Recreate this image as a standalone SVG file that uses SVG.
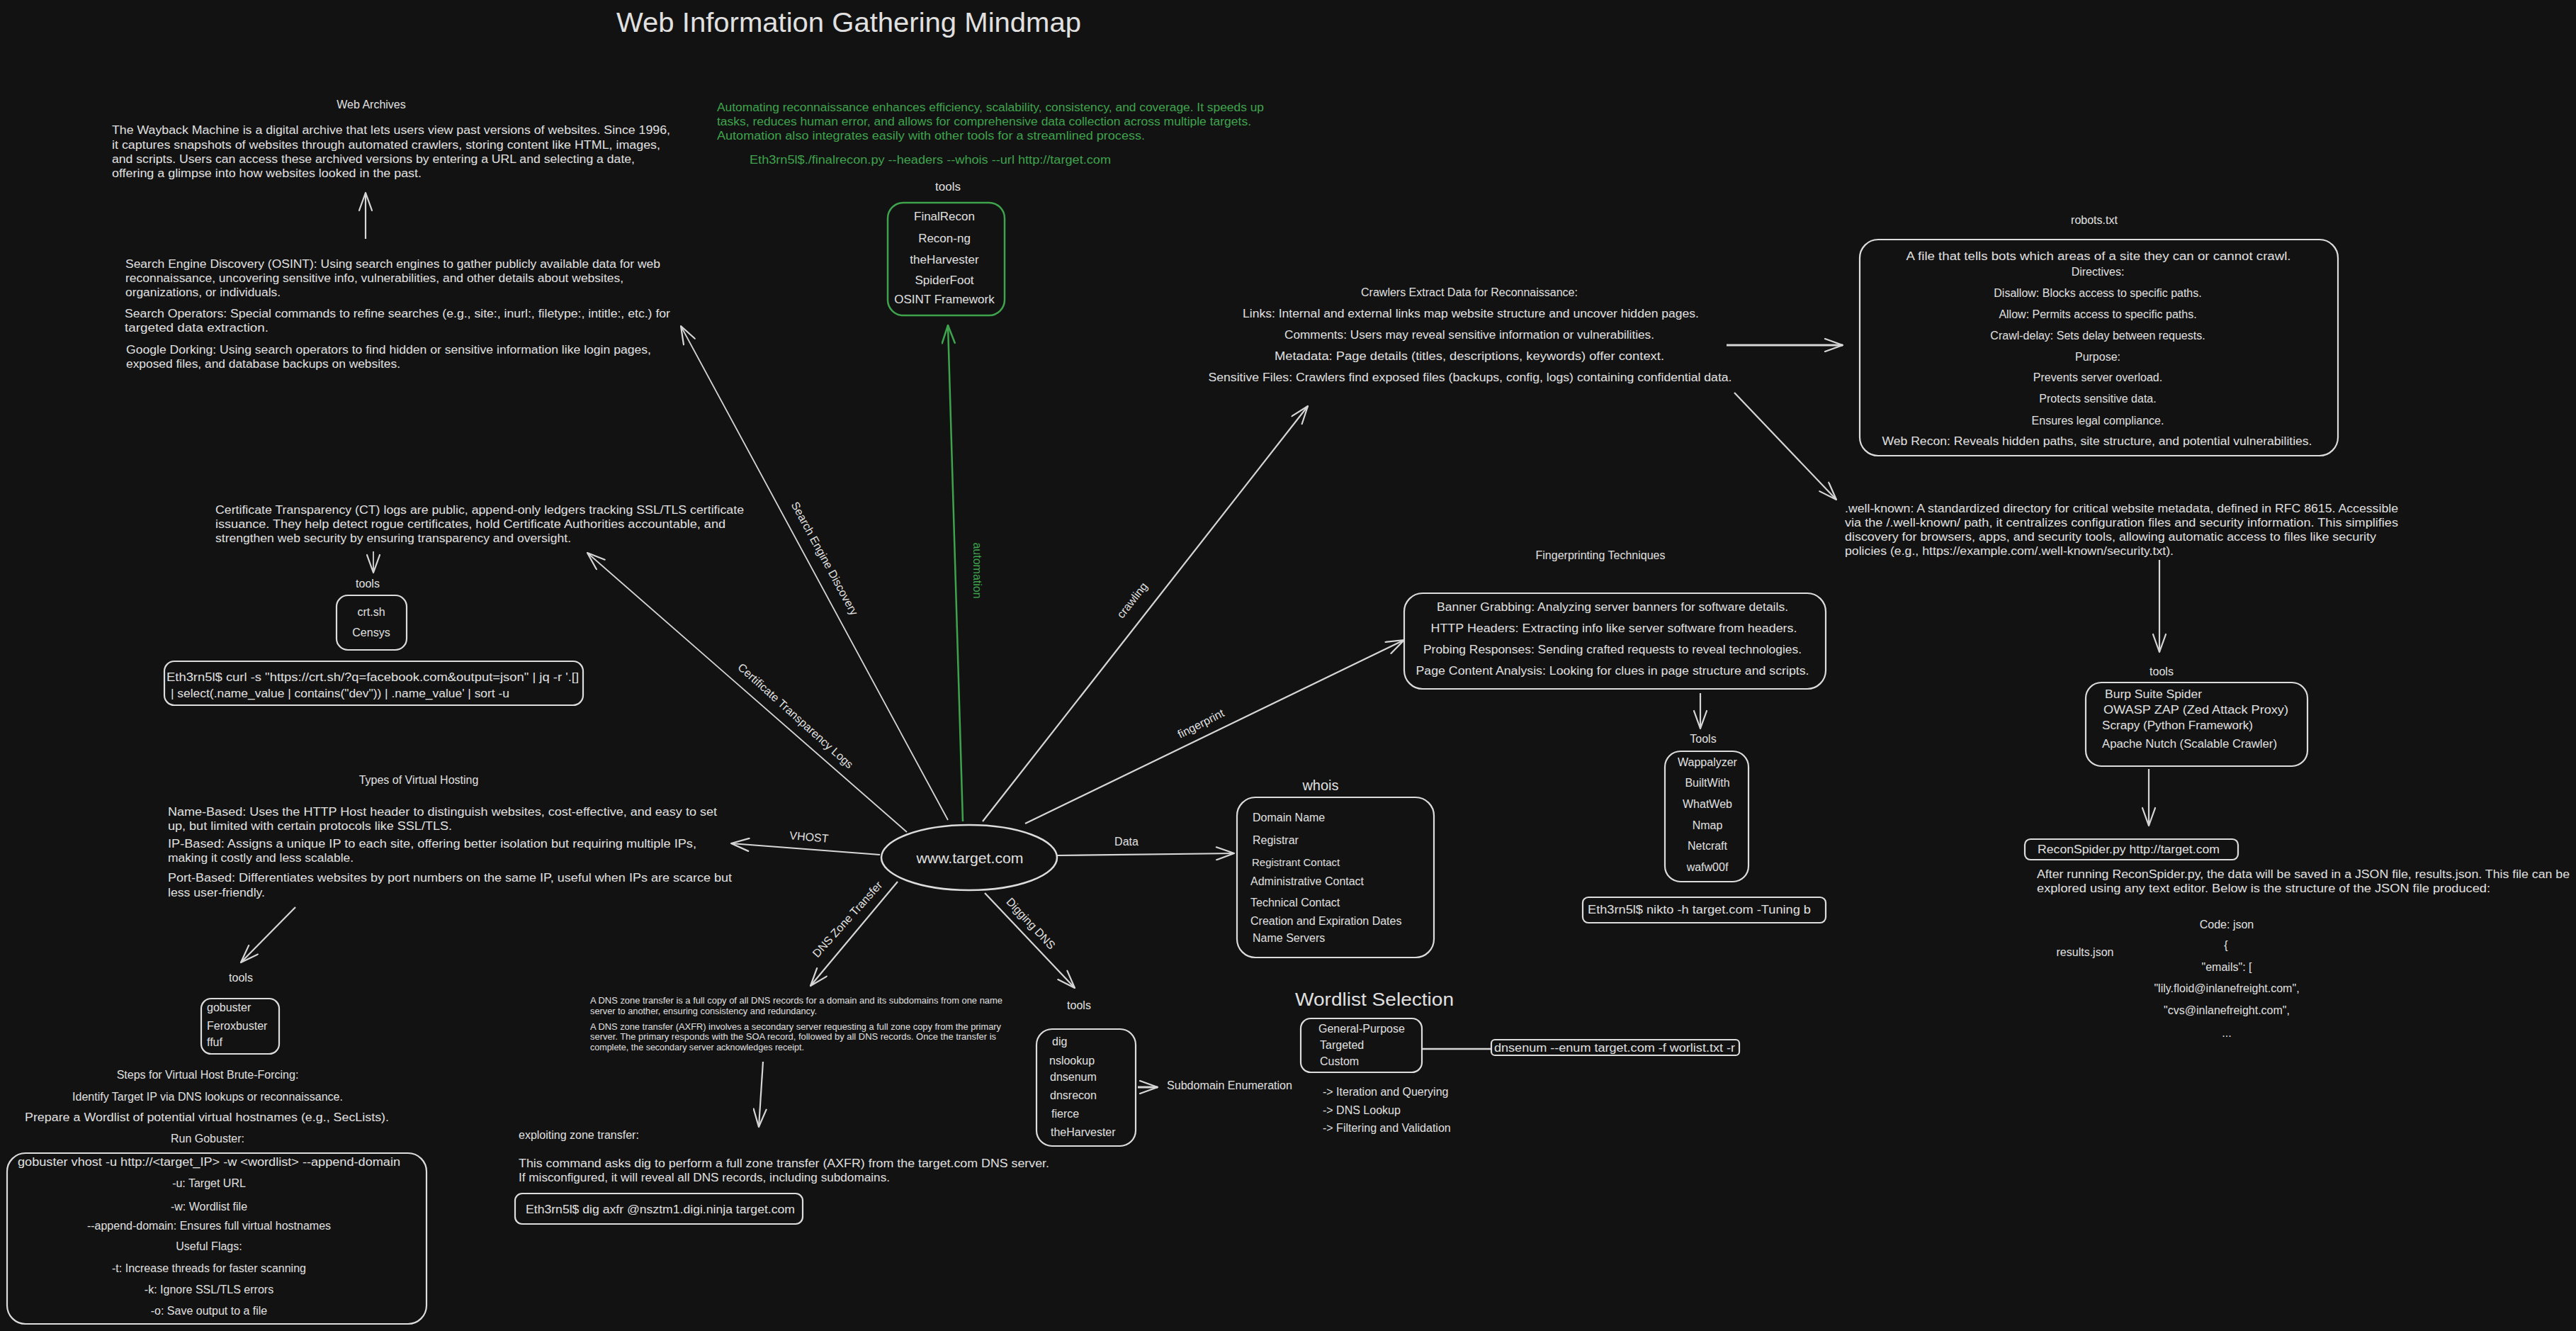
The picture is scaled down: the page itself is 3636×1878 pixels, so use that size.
<svg xmlns="http://www.w3.org/2000/svg" width="3636" height="1878" viewBox="0 0 3636 1878">
<style>
  text { font-family: "Liberation Sans", "DejaVu Sans", sans-serif; fill: #e0e0e0; font-size: 16px; dominant-baseline: central; }
  .c { text-anchor: middle; }
  .g { fill: #3fa34d; }
  .s { font-size: 12px; }
  .b { font-size: 17px; }
  .lbl { font-size: 16px; text-anchor: middle; }
  .box { fill: none; stroke: #dcdcdc; stroke-width: 2.2; }
  .gbox { fill: none; stroke: #3fa34d; stroke-width: 2.5; }
  .edge { fill: none; stroke: #d6d6d6; stroke-width: 2.2; marker-end: url(#arrow); }
  .gedge { fill: none; stroke: #3fa34d; stroke-width: 2.5; marker-end: url(#garrow); }
  .plain { fill: none; stroke: #d6d6d6; stroke-width: 2.5; }
</style>
<defs>
  <marker id="arrow" viewBox="0 0 30 20" refX="28" refY="10" markerWidth="30" markerHeight="20" markerUnits="userSpaceOnUse" orient="auto">
    <path d="M 3 1 L 28 10 L 3 19" fill="none" stroke="#d6d6d6" stroke-width="2.2" stroke-linecap="round" stroke-linejoin="round"/>
  </marker>
  <marker id="garrow" viewBox="0 0 30 20" refX="28" refY="10" markerWidth="30" markerHeight="20" markerUnits="userSpaceOnUse" orient="auto">
    <path d="M 3 1 L 28 10 L 3 19" fill="none" stroke="#3fa34d" stroke-width="2.5" stroke-linecap="round" stroke-linejoin="round"/>
  </marker>
</defs>
<rect x="0" y="0" width="3636" height="1878" fill="#121212"/>

<text class="c" x="1198" y="32" style="font-size:38px" textLength="656" lengthAdjust="spacingAndGlyphs">Web Information Gathering Mindmap</text>

<!-- connectors -->
<g id="connectors">
  <path class="edge" d="M 1338 1157 L 961 460" style="stroke-width:1.8"/>
  <path class="gedge" d="M 1359 1159 L 1338 459"/>
  <path class="edge" d="M 1387 1159 L 1846 573"/>
  <path class="edge" d="M 1447 1162 L 1982 903"/>
  <path class="edge" d="M 1280 1174 L 829 780" style="stroke-width:1.8"/>
  <path class="edge" d="M 1242 1206 L 1032 1190"/>
  <path class="edge" d="M 1492 1207 L 1742 1204"/>
  <path class="edge" d="M 1267 1244 L 1144 1391"/>
  <path class="edge" d="M 1390 1260 L 1517 1394"/>
  <path class="edge" d="M 516 337 L 516 272"/>
  <path class="edge" d="M 527 778 L 527 808" style="stroke-width:1.8"/>
  <path class="edge" d="M 2437 487 L 2601 487" style="stroke-width:3"/>
  <path class="edge" d="M 2448 554 L 2592 705"/>
  <path class="edge" d="M 3048 790 L 3048 920"/>
  <path class="edge" d="M 3033 1085 L 3033 1165"/>
  <path class="edge" d="M 2400 978 L 2400 1028"/>
  <path class="edge" d="M 417 1280 L 340 1358"/>
  <path class="edge" d="M 1077 1498 L 1071 1590"/>
  <path class="edge" d="M 1606 1534 L 1634 1534" style="stroke-width:3"/>
  <path class="plain" d="M 2007 1480 L 2105 1480"/>

  <text class="lbl" transform="translate(1164 788) rotate(61.5)">Search Engine Discovery</text>
  <text class="lbl g" transform="translate(1379 805) rotate(90)">automation</text>
  <text class="lbl" transform="translate(1598 847) rotate(-52)">crawling</text>
  <text class="lbl" transform="translate(1695 1021) rotate(-27)">fingerprint</text>
  <text class="lbl" transform="translate(1123 1010) rotate(42)">Certificate Transparency Logs</text>
  <text class="lbl" transform="translate(1142 1181) rotate(5)">VHOST</text>
  <text class="lbl" x="1590" y="1187">Data</text>
  <text class="lbl" transform="translate(1196 1297) rotate(-48)">DNS Zone Transfer</text>
  <text class="lbl" transform="translate(1455 1303) rotate(47)">Digging DNS</text>
</g>

<!-- central node -->
<g id="target">
  <ellipse cx="1368" cy="1210" rx="124" ry="46" class="box" style="stroke-width:2.5"/>
  <text class="c" x="1369" y="1210" style="font-size:21px" textLength="151" lengthAdjust="spacingAndGlyphs">www.target.com</text>
</g>

<!-- web archives -->
<g id="web-archives">
  <text class="c" x="524" y="147">Web Archives</text>
  <text x="158" y="183" textLength="788" lengthAdjust="spacingAndGlyphs">The Wayback Machine is a digital archive that lets users view past versions of websites. Since 1996,</text>
  <text x="158" y="204" textLength="774" lengthAdjust="spacingAndGlyphs">it captures snapshots of websites through automated crawlers, storing content like HTML, images,</text>
  <text x="158" y="224" textLength="738" lengthAdjust="spacingAndGlyphs">and scripts. Users can access these archived versions by entering a URL and selecting a date,</text>
  <text x="158" y="244" textLength="437" lengthAdjust="spacingAndGlyphs">offering a glimpse into how websites looked in the past.</text>
</g>

<!-- search engine discovery -->
<g id="search-engine">
  <text x="177" y="372" textLength="755" lengthAdjust="spacingAndGlyphs">Search Engine Discovery (OSINT): Using search engines to gather publicly available data for web</text>
  <text x="177" y="392" textLength="703" lengthAdjust="spacingAndGlyphs">reconnaissance, uncovering sensitive info, vulnerabilities, and other details about websites,</text>
  <text x="177" y="412" textLength="219" lengthAdjust="spacingAndGlyphs">organizations, or individuals.</text>
  <text x="176" y="442" textLength="770" lengthAdjust="spacingAndGlyphs">Search Operators: Special commands to refine searches (e.g., site:, inurl:, filetype:, intitle:, etc.) for</text>
  <text x="176" y="462" textLength="203" lengthAdjust="spacingAndGlyphs">targeted data extraction.</text>
  <text x="178" y="493" textLength="741" lengthAdjust="spacingAndGlyphs">Google Dorking: Using search operators to find hidden or sensitive information like login pages,</text>
  <text x="178" y="513" textLength="387" lengthAdjust="spacingAndGlyphs">exposed files, and database backups on websites.</text>
</g>

<!-- automation -->
<g id="automation">
  <text class="g" x="1012" y="151" textLength="772" lengthAdjust="spacingAndGlyphs">Automating reconnaissance enhances efficiency, scalability, consistency, and coverage. It speeds up</text>
  <text class="g" x="1012" y="171" textLength="754" lengthAdjust="spacingAndGlyphs">tasks, reduces human error, and allows for comprehensive data collection across multiple targets.</text>
  <text class="g" x="1012" y="191" textLength="604" lengthAdjust="spacingAndGlyphs">Automation also integrates easily with other tools for a streamlined process.</text>
  <text class="g" x="1058" y="225" textLength="510" lengthAdjust="spacingAndGlyphs">Eth3rn5l$./finalrecon.py --headers --whois --url http://target.com</text>
</g>
<g id="automation-tools">
  <text class="c b" x="1338" y="263">tools</text>
  <rect class="gbox" x="1253" y="286" width="165" height="159" rx="22"/>
  <text class="c b" x="1333" y="305">FinalRecon</text>
  <text class="c b" x="1333" y="336">Recon-ng</text>
  <text class="c b" x="1333" y="366">theHarvester</text>
  <text class="c b" x="1333" y="395">SpiderFoot</text>
  <text class="c b" x="1333" y="422">OSINT Framework</text>
</g>

<!-- crawling -->
<g id="crawlers">
  <text class="c" x="2074" y="412">Crawlers Extract Data for Reconnaissance:</text>
  <text class="c" x="2076" y="442" textLength="644" lengthAdjust="spacingAndGlyphs">Links: Internal and external links map website structure and uncover hidden pages.</text>
  <text class="c" x="2074" y="472" textLength="522" lengthAdjust="spacingAndGlyphs">Comments: Users may reveal sensitive information or vulnerabilities.</text>
  <text class="c" x="2074" y="502" textLength="550" lengthAdjust="spacingAndGlyphs">Metadata: Page details (titles, descriptions, keywords) offer context.</text>
  <text class="c" x="2075" y="532" textLength="739" lengthAdjust="spacingAndGlyphs">Sensitive Files: Crawlers find exposed files (backups, config, logs) containing confidential data.</text>
</g>

<g id="robots">
  <text class="c" x="2956" y="310">robots.txt</text>
  <rect class="box" x="2625" y="338" width="675" height="305" rx="26"/>
  <text class="c" x="2962" y="361" textLength="543" lengthAdjust="spacingAndGlyphs">A file that tells bots which areas of a site they can or cannot crawl.</text>
  <text class="c" x="2961" y="383">Directives:</text>
  <text class="c" x="2961" y="413">Disallow: Blocks access to specific paths.</text>
  <text class="c" x="2961" y="443">Allow: Permits access to specific paths.</text>
  <text class="c" x="2961" y="473">Crawl-delay: Sets delay between requests.</text>
  <text class="c" x="2961" y="503">Purpose:</text>
  <text class="c" x="2961" y="532">Prevents server overload.</text>
  <text class="c" x="2961" y="562">Protects sensitive data.</text>
  <text class="c" x="2961" y="593">Ensures legal compliance.</text>
  <text class="c" x="2960" y="622" textLength="607" lengthAdjust="spacingAndGlyphs">Web Recon: Reveals hidden paths, site structure, and potential vulnerabilities.</text>
</g>

<g id="well-known">
  <text x="2604" y="717" textLength="781" lengthAdjust="spacingAndGlyphs">.well-known: A standardized directory for critical website metadata, defined in RFC 8615. Accessible</text>
  <text x="2604" y="737" textLength="781" lengthAdjust="spacingAndGlyphs">via the /.well-known/ path, it centralizes configuration files and security information. This simplifies</text>
  <text x="2604" y="757" textLength="750" lengthAdjust="spacingAndGlyphs">discovery for browsers, apps, and security tools, allowing automatic access to files like security</text>
  <text x="2604" y="777" textLength="464" lengthAdjust="spacingAndGlyphs">policies (e.g., https://example.com/.well-known/security.txt).</text>
</g>

<g id="crawler-tools">
  <text class="c" x="3051" y="947">tools</text>
  <rect class="box" x="2944" y="963" width="313" height="118" rx="22"/>
  <text x="2971" y="979" textLength="137" lengthAdjust="spacingAndGlyphs">Burp Suite Spider</text>
  <text x="2969" y="1001" textLength="261" lengthAdjust="spacingAndGlyphs">OWASP ZAP (Zed Attack Proxy)</text>
  <text x="2967" y="1023" textLength="213" lengthAdjust="spacingAndGlyphs">Scrapy (Python Framework)</text>
  <text x="2967" y="1049" textLength="247" lengthAdjust="spacingAndGlyphs">Apache Nutch (Scalable Crawler)</text>
</g>

<g id="reconspider">
  <rect class="box" x="2858" y="1184" width="301" height="29" rx="8"/>
  <text x="2876" y="1198" textLength="257" lengthAdjust="spacingAndGlyphs">ReconSpider.py http://target.com</text>
  <text x="2875" y="1233" textLength="752" lengthAdjust="spacingAndGlyphs">After running ReconSpider.py, the data will be saved in a JSON file, results.json. This file can be</text>
  <text x="2875" y="1253" textLength="640" lengthAdjust="spacingAndGlyphs">explored using any text editor. Below is the structure of the JSON file produced:</text>
  <text class="c" x="3143" y="1304">Code: json</text>
  <text class="c" x="2943" y="1343">results.json</text>
  <text class="c" x="3142" y="1333">{</text>
  <text class="c" x="3143" y="1364">"emails": [</text>
  <text class="c" x="3143" y="1394">"lily.floid@inlanefreight.com",</text>
  <text class="c" x="3143" y="1425">"cvs@inlanefreight.com",</text>
  <text class="c" x="3143" y="1457">...</text>
</g>

<!-- fingerprinting -->
<g id="fingerprinting">
  <text class="c" x="2259" y="783">Fingerprinting Techniques</text>
  <rect class="box" x="1982" y="837" width="595" height="135" rx="26"/>
  <text class="c" x="2276" y="856" textLength="496" lengthAdjust="spacingAndGlyphs">Banner Grabbing: Analyzing server banners for software details.</text>
  <text class="c" x="2278" y="886" textLength="517" lengthAdjust="spacingAndGlyphs">HTTP Headers: Extracting info like server software from headers.</text>
  <text class="c" x="2276" y="916" textLength="534" lengthAdjust="spacingAndGlyphs">Probing Responses: Sending crafted requests to reveal technologies.</text>
  <text class="c" x="2276" y="946" textLength="555" lengthAdjust="spacingAndGlyphs">Page Content Analysis: Looking for clues in page structure and scripts.</text>
</g>
<g id="fingerprint-tools">
  <text class="c" x="2404" y="1042">Tools</text>
  <rect class="box" x="2350" y="1060" width="118" height="184" rx="22"/>
  <text class="c" x="2410" y="1075">Wappalyzer</text>
  <text class="c" x="2410" y="1104">BuiltWith</text>
  <text class="c" x="2410" y="1134">WhatWeb</text>
  <text class="c" x="2410" y="1164">Nmap</text>
  <text class="c" x="2410" y="1193">Netcraft</text>
  <text class="c" x="2410" y="1223">wafw00f</text>
  <rect class="box" x="2234" y="1266" width="343" height="36" rx="8"/>
  <text x="2241" y="1283" textLength="315" lengthAdjust="spacingAndGlyphs">Eth3rn5l$ nikto -h target.com -Tuning b</text>
</g>

<!-- certificate transparency -->
<g id="ct-logs">
  <text x="304" y="719" textLength="746" lengthAdjust="spacingAndGlyphs">Certificate Transparency (CT) logs are public, append-only ledgers tracking SSL/TLS certificate</text>
  <text x="304" y="739" textLength="720" lengthAdjust="spacingAndGlyphs">issuance. They help detect rogue certificates, hold Certificate Authorities accountable, and</text>
  <text x="304" y="759" textLength="502" lengthAdjust="spacingAndGlyphs">strengthen web security by ensuring transparency and oversight.</text>
</g>
<g id="ct-tools">
  <text class="c" x="519" y="823">tools</text>
  <rect class="box" x="475" y="840" width="99" height="77" rx="16"/>
  <text class="c" x="524" y="863">crt.sh</text>
  <text class="c" x="524" y="892">Censys</text>
  <rect class="box" x="232" y="933" width="591" height="62" rx="14"/>
  <text x="235" y="955" textLength="582" lengthAdjust="spacingAndGlyphs">Eth3rn5l$ curl -s "https://crt.sh/?q=facebook.com&amp;output=json" | jq -r '.[]</text>
  <text x="241" y="978" textLength="478" lengthAdjust="spacingAndGlyphs">| select(.name_value | contains("dev")) | .name_value' | sort -u</text>
</g>

<!-- virtual hosting -->
<g id="vhost">
  <text class="c" x="591" y="1100">Types of Virtual Hosting</text>
  <text x="237" y="1145" textLength="775" lengthAdjust="spacingAndGlyphs">Name-Based: Uses the HTTP Host header to distinguish websites, cost-effective, and easy to set</text>
  <text x="237" y="1165" textLength="401" lengthAdjust="spacingAndGlyphs">up, but limited with certain protocols like SSL/TLS.</text>
  <text x="237" y="1190" textLength="746" lengthAdjust="spacingAndGlyphs">IP-Based: Assigns a unique IP to each site, offering better isolation but requiring multiple IPs,</text>
  <text x="237" y="1210" textLength="262" lengthAdjust="spacingAndGlyphs">making it costly and less scalable.</text>
  <text x="237" y="1238" textLength="796" lengthAdjust="spacingAndGlyphs">Port-Based: Differentiates websites by port numbers on the same IP, useful when IPs are scarce but</text>
  <text x="237" y="1259" textLength="137" lengthAdjust="spacingAndGlyphs">less user-friendly.</text>
</g>
<g id="vhost-tools">
  <text class="c" x="340" y="1379">tools</text>
  <rect class="box" x="284" y="1409" width="110" height="78" rx="14"/>
  <text x="292" y="1421">gobuster</text>
  <text x="292" y="1447">Feroxbuster</text>
  <text x="292" y="1470">ffuf</text>
</g>
<g id="vhost-steps">
  <text class="c" x="293" y="1516">Steps for Virtual Host Brute-Forcing:</text>
  <text class="c" x="293" y="1547">Identify Target IP via DNS lookups or reconnaissance.</text>
  <text class="c" x="292" y="1576" textLength="514" lengthAdjust="spacingAndGlyphs">Prepare a Wordlist of potential virtual hostnames (e.g., SecLists).</text>
  <text class="c" x="293" y="1606">Run Gobuster:</text>
  <rect class="box" x="10" y="1627" width="592" height="241" rx="26"/>
  <text class="c" x="295" y="1639" textLength="540" lengthAdjust="spacingAndGlyphs">gobuster vhost -u http://&lt;target_IP&gt; -w &lt;wordlist&gt; --append-domain</text>
  <text class="c" x="295" y="1669">-u: Target URL</text>
  <text class="c" x="295" y="1702">-w: Wordlist file</text>
  <text class="c" x="295" y="1729">--append-domain: Ensures full virtual hostnames</text>
  <text class="c" x="295" y="1758">Useful Flags:</text>
  <text class="c" x="295" y="1789">-t: Increase threads for faster scanning</text>
  <text class="c" x="295" y="1819">-k: Ignore SSL/TLS errors</text>
  <text class="c" x="295" y="1849">-o: Save output to a file</text>
</g>

<!-- DNS zone transfer -->
<g id="zone-transfer">
  <text class="s" x="833" y="1412" textLength="582" lengthAdjust="spacingAndGlyphs">A DNS zone transfer is a full copy of all DNS records for a domain and its subdomains from one name</text>
  <text class="s" x="833" y="1427" textLength="320" lengthAdjust="spacingAndGlyphs">server to another, ensuring consistency and redundancy.</text>
  <text class="s" x="833" y="1449" textLength="580" lengthAdjust="spacingAndGlyphs">A DNS zone transfer (AXFR) involves a secondary server requesting a full zone copy from the primary</text>
  <text class="s" x="833" y="1463" textLength="573" lengthAdjust="spacingAndGlyphs">server. The primary responds with the SOA record, followed by all DNS records. Once the transfer is</text>
  <text class="s" x="833" y="1478" textLength="302" lengthAdjust="spacingAndGlyphs">complete, the secondary server acknowledges receipt.</text>
  <text x="732" y="1601">exploiting zone transfer:</text>
  <text x="732" y="1641" textLength="749" lengthAdjust="spacingAndGlyphs">This command asks dig to perform a full zone transfer (AXFR) from the target.com DNS server.</text>
  <text x="732" y="1661" textLength="524" lengthAdjust="spacingAndGlyphs">If misconfigured, it will reveal all DNS records, including subdomains.</text>
  <rect class="box" x="727" y="1684" width="406" height="43" rx="10"/>
  <text x="742" y="1706" textLength="380" lengthAdjust="spacingAndGlyphs">Eth3rn5l$ dig axfr @nsztm1.digi.ninja target.com</text>
</g>

<!-- whois -->
<g id="whois">
  <text class="c" x="1864" y="1108" style="font-size:20px">whois</text>
  <rect class="box" x="1746" y="1125" width="278" height="226" rx="26"/>
  <text x="1768" y="1153">Domain Name</text>
  <text x="1768" y="1185">Registrar</text>
  <text x="1767" y="1216" style="font-size:15px">Registrant Contact</text>
  <text x="1765" y="1243">Administrative Contact</text>
  <text x="1765" y="1273">Technical Contact</text>
  <text x="1765" y="1299">Creation and Expiration Dates</text>
  <text x="1768" y="1323">Name Servers</text>
</g>

<!-- digging DNS -->
<g id="dns-tools">
  <text class="c" x="1523" y="1418">tools</text>
  <rect class="box" x="1463" y="1452" width="140" height="165" rx="22"/>
  <text x="1485" y="1469">dig</text>
  <text x="1481" y="1496">nslookup</text>
  <text x="1482" y="1519">dnsenum</text>
  <text x="1482" y="1545">dnsrecon</text>
  <text x="1484" y="1571">fierce</text>
  <text x="1483" y="1597">theHarvester</text>
  <text x="1647" y="1531" textLength="177" lengthAdjust="spacingAndGlyphs">Subdomain Enumeration</text>
</g>
<g id="wordlist">
  <text class="c" x="1940" y="1410" style="font-size:26px" textLength="224" lengthAdjust="spacingAndGlyphs">Wordlist Selection</text>
  <rect class="box" x="1836" y="1437" width="171" height="76" rx="14"/>
  <text x="1861" y="1451">General-Purpose</text>
  <text x="1863" y="1474">Targeted</text>
  <text x="1863" y="1497">Custom</text>
  <rect class="box" x="2105" y="1467" width="350" height="22" rx="5"/>
  <text x="2109" y="1478" textLength="340" lengthAdjust="spacingAndGlyphs">dnsenum --enum target.com -f worlist.txt -r</text>
  <text x="1867" y="1540">-&gt; Iteration and Querying</text>
  <text x="1867" y="1566">-&gt; DNS Lookup</text>
  <text x="1867" y="1591">-&gt; Filtering and Validation</text>
</g>
</svg>
